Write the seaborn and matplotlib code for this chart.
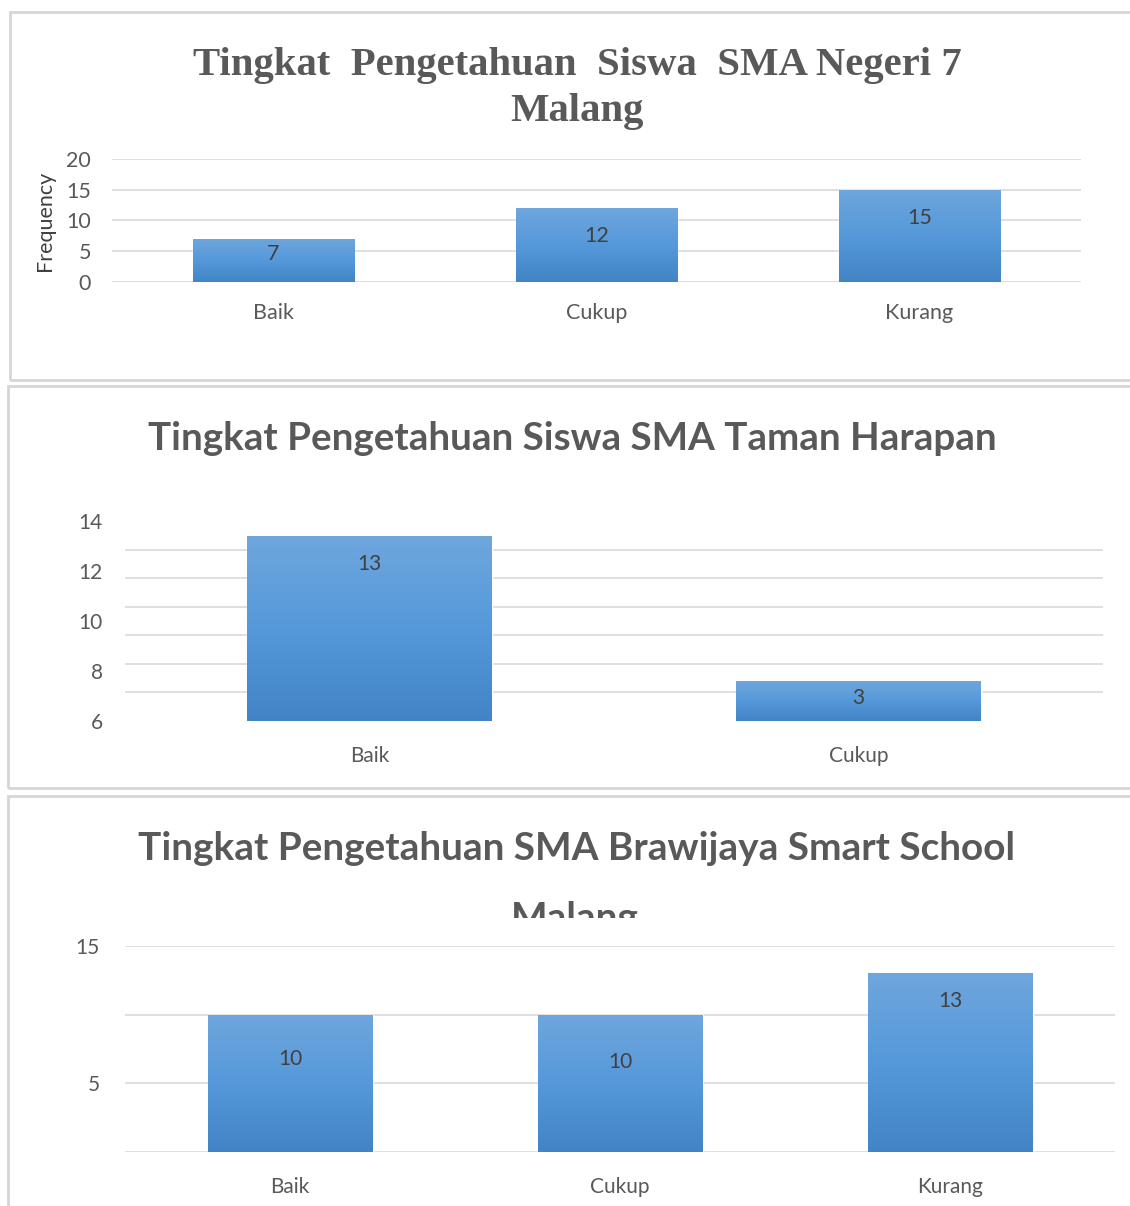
import numpy as np
import matplotlib
matplotlib.use('Agg')
import matplotlib.pyplot as plt
import seaborn as sns
from matplotlib.patches import Rectangle
from matplotlib.colors import LinearSegmentedColormap
from matplotlib.transforms import Bbox, TransformedBbox

# data
p1_cats = ['Baik', 'Cukup', 'Kurang']
p1_vals = [7, 12, 15]
p1_labels = ['7', '12', '15']

p2_cats = ['Baik', 'Cukup']
p2_vals = [13.4, 7.6]          # bar heights as drawn on the axis
p2_labels = ['13', '3']        # labels printed on the bars

p3_cats = ['Baik', 'Cukup', 'Kurang']
p3_vals = [10, 10, 13]
p3_labels = ['10', '10', '13']

sns.set_theme(style='white')
plt.rcParams['font.family'] = ['Lato', 'DejaVu Sans']

W, H = 1130, 1206
fig = plt.figure(figsize=(W / 100, H / 100), dpi=100)
fig.patch.set_facecolor('white')

GRID = '#d9d9d9'
TXT = '#595959'
grad_cmap = LinearSegmentedColormap.from_list('bar', ['#6fa6dd', '#5599da', '#4284c6'])


def px_rect(l, t, r, b):
    return [l / W, 1 - b / H, (r - l) / W, (b - t) / H]


def panel_border(l, t, r, b):
    fig.patches.append(Rectangle((l / W, 1 - b / H), (r - l) / W, (b - t) / H,
                                 transform=fig.transFigure, fill=False,
                                 edgecolor='#d6d6d6', lw=2, zorder=0))


def fit_width(t, target_px):
    fig.canvas.draw()
    w = t.get_window_extent().width
    t.set_fontsize(t.get_fontsize() * target_px / w)


def draw_panel(rect, cats, vals, labels, label_off, ylim, major, minor=None,
               grid_which='major', ylabel=None, xpad=16, ypad=14, tick_size=14):
    ax = fig.add_axes(px_rect(*rect))
    sns.barplot(x=cats, y=vals, ax=ax, width=0.5, color='#5b9bd5', zorder=3)
    ax.set_ylim(*ylim)
    gradient = np.linspace(0, 1, 256).reshape(-1, 1)
    for patch in ax.patches:
        x0 = patch.get_x()
        w = patch.get_width()
        top = patch.get_height()
        bottom = max(0, ylim[0])
        im = ax.imshow(gradient, cmap=grad_cmap, aspect='auto', origin='upper',
                       extent=[x0, x0 + w, bottom, top], zorder=4)
        im.set_clip_path(patch)
    ax.set_xlim(-0.5, len(cats) - 0.5)
    ax.set_ylim(*ylim)
    for i, (v, lab) in enumerate(zip(vals, labels)):
        ax.annotate(lab, (i, v), xytext=(0, -label_off[i]), textcoords='offset points',
                    ha='center', va='center', fontsize=tick_size, color='#404040', zorder=5)
    ax.set_yticks(major)
    if minor is not None:
        ax.set_yticks(minor, minor=True)
    ax.grid(axis='y', which=grid_which, color=GRID, lw=1.2, zorder=0)
    ax.tick_params(axis='y', which='both', length=0, pad=ypad, labelsize=tick_size, labelcolor=TXT)
    ax.tick_params(axis='x', length=0, pad=xpad, labelsize=tick_size, labelcolor=TXT)
    for s in ax.spines.values():
        s.set_visible(False)
    ax.set_facecolor('none')
    if ylabel:
        ax.set_ylabel(ylabel, fontsize=15.5, color='#404040', labelpad=8)
    return ax


# panel 1
panel_border(10, 12, 1140, 380)
draw_panel((112, 159, 1081, 282), p1_cats, p1_vals, p1_labels, [11, 20, 20],
           (0, 20), [0, 5, 10, 15, 20], ylabel='Frequency', xpad=15, ypad=15, tick_size=15.5)
t1 = fig.text(577 / W, 1 - 65 / H, 'Tingkat  Pengetahuan  Siswa  SMA Negeri 7',
              ha='center', va='center', family='Liberation Serif', weight='bold',
              color=TXT, fontsize=26)
fit_width(t1, 770)
fig.text(577 / W, 1 - 111 / H, 'Malang', ha='center', va='center',
         family='Liberation Serif', weight='bold', color=TXT, fontsize=t1.get_fontsize())

# panel 2
panel_border(8, 386, 1140, 788)
draw_panel((125, 521, 1103, 721), p2_cats, p2_vals, p2_labels, [20, 12],
           (6, 14), [6, 8, 10, 12, 14], minor=np.linspace(6, 14, 8), grid_which='minor',
           xpad=18, ypad=16, tick_size=15)
t2 = fig.text(572 / W, 1 - 438 / H, 'Tingkat Pengetahuan Siswa SMA Taman Harapan',
              ha='center', va='center', weight='bold', color=TXT, fontsize=24)
fit_width(t2, 848)

# panel 3
panel_border(8, 796, 1140, 1210)
draw_panel((125, 946, 1115, 1152), p3_cats, p3_vals, p3_labels, [32, 34, 20],
           (0, 15), [5, 15], minor=[0, 10], grid_which='both',
           xpad=18, ypad=18, tick_size=15)
t3 = fig.text(576 / W, 1 - 848 / H, 'Tingkat Pengetahuan SMA Brawijaya Smart School',
              ha='center', va='center', weight='bold', color=TXT, fontsize=24)
fit_width(t3, 878)
t4 = fig.text(575 / W, 1 - 918 / H, 'Malang', ha='center', va='center',
              weight='bold', color=TXT, fontsize=t3.get_fontsize())
t4.set_clip_on(True)
t4.set_clip_box(TransformedBbox(Bbox([[0, 1 - 918 / H], [1, 1 - 880 / H]]), fig.transFigure))

fig.savefig('out.png', dpi=100, facecolor='white')
